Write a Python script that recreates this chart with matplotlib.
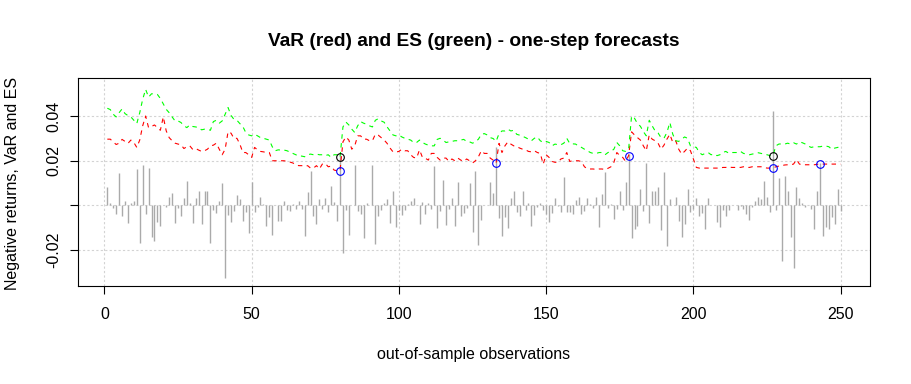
import numpy as np
import matplotlib
matplotlib.use("Agg")
import matplotlib.pyplot as plt

plt.rcParams['font.family'] = ['Liberation Sans', 'DejaVu Sans']

# out-of-sample negative returns
ret = np.array([
    0.0082, 0.0010, -0.0012, -0.0037, 0.0145, -0.0049, 0.0022, -0.0079, 0.0010, 0.0022,
    0.0164, -0.0168, 0.0183, -0.0037, 0.0168, -0.0142, -0.0159, -0.0075, -0.0092, 0.0003,
    -0.0007, 0.0037, 0.0058, -0.0079, -0.0012, -0.0048, 0.0033, 0.0112, 0.0013, -0.0079,
    0.0033, 0.0063, -0.0082, 0.0067, 0.0067, -0.0168, -0.0022, -0.0034, 0.0019, 0.0100,
    -0.0328, -0.0045, -0.0075, -0.0025, 0.0045, 0.0027, -0.0070, -0.0030, -0.0124, 0.0104,
    -0.0030, -0.0007, 0.0037, 0.0007, -0.0092, -0.0052, -0.0134, 0.0004, -0.0072, -0.0072,
    0.0022, -0.0022, -0.0025, 0.0007, -0.0015, 0.0018, -0.0015, -0.0137, 0.0060, 0.0156,
    -0.0048, -0.0082, 0.0027, -0.0018, 0.0033, -0.0030, 0.0089, 0.0015, -0.0070, 0.0228,
    -0.0212, -0.0019, -0.0134, 0.0004, 0.0182, -0.0027, -0.0037, -0.0145, 0.0013, 0.0004,
    0.0182, -0.0171, -0.0048, -0.0019, 0.0010, 0.0027, -0.0079, 0.0063, -0.0097, -0.0022,
    -0.0045, -0.0022, 0.0007, 0.0022, 0.0034, 0.0004, -0.0085, 0.0015, -0.0037, 0.0012,
    -0.0015, 0.0179, -0.0100, -0.0025, 0.0116, -0.0086, -0.0015, 0.0034, -0.0092, 0.0104,
    -0.0049, -0.0033, -0.0012, 0.0100, -0.0119, 0.0156, -0.0179, -0.0067, 0.0004, 0.0003,
    0.0104, 0.0057, 0.0264, -0.0055, -0.0137, -0.0052, -0.0100, 0.0033, 0.0064, -0.0030,
    -0.0048, 0.0064, -0.0022, 0.0010, -0.0092, -0.0042, -0.0007, 0.0010, -0.0019, -0.0040,
    -0.0075, -0.0033, 0.0033, -0.0004, -0.0030, 0.0127, -0.0030, -0.0030, -0.0037, 0.0025,
    0.0040, -0.0037, -0.0025, 0.0033, 0.0007, -0.0012, 0.0037, -0.0097, 0.0052, 0.0149,
    -0.0012, 0.0007, -0.0060, -0.0015, 0.0067, -0.0022, 0.0104, 0.0231, -0.0145, -0.0104,
    -0.0092, 0.0072, -0.0027, 0.0191, -0.0079, 0.0067, 0.0067, 0.0082, -0.0109, 0.0149,
    -0.0183, 0.0027, 0.0004, 0.0037, -0.0070, -0.0142, -0.0082, 0.0072, -0.0030, -0.0015,
    0.0033, -0.0048, -0.0034, -0.0104, 0.0033, 0.0004, 0.0004, -0.0075, -0.0097, -0.0022,
    -0.0048, -0.0019, 0.0004, 0.0004, -0.0019, -0.0004, -0.0015, -0.0037, -0.0064, -0.0007,
    0.0019, 0.0037, 0.0027, 0.0112, 0.0037, -0.0030, 0.0425, -0.0022, 0.0122, -0.0250,
    0.0134, 0.0064, -0.0142, -0.0279, 0.0082, 0.0033, 0.0010, -0.0007, 0.0004, -0.0015,
    -0.0104, 0.0067, 0.0189, -0.0137, -0.0097, -0.0104, -0.0052, -0.0082, 0.0072, -0.0025,
])

# one-step VaR forecasts
VaR = np.array([
    0.0298, 0.0298, 0.0286, 0.0274, 0.0280, 0.0297, 0.0288, 0.0279, 0.0294, 0.0283,
    0.0261, 0.0294, 0.0358, 0.0402, 0.0350, 0.0355, 0.0362, 0.0350, 0.0338, 0.0398,
    0.0335, 0.0305, 0.0291, 0.0280, 0.0276, 0.0273, 0.0256, 0.0264, 0.0268, 0.0252,
    0.0256, 0.0249, 0.0243, 0.0246, 0.0253, 0.0268, 0.0271, 0.0280, 0.0253, 0.0228,
    0.0253, 0.0332, 0.0325, 0.0301, 0.0302, 0.0276, 0.0238, 0.0238, 0.0228, 0.0216,
    0.0261, 0.0250, 0.0243, 0.0241, 0.0238, 0.0238, 0.0201, 0.0201, 0.0201, 0.0201,
    0.0201, 0.0198, 0.0195, 0.0191, 0.0183, 0.0179, 0.0179, 0.0176, 0.0179, 0.0168,
    0.0168, 0.0179, 0.0164, 0.0186, 0.0189, 0.0174, 0.0177, 0.0159, 0.0156, 0.0156,
    0.0286, 0.0308, 0.0294, 0.0253, 0.0268, 0.0313, 0.0313, 0.0298, 0.0298, 0.0291,
    0.0291, 0.0320, 0.0316, 0.0305, 0.0294, 0.0279, 0.0258, 0.0241, 0.0240, 0.0243,
    0.0253, 0.0246, 0.0246, 0.0228, 0.0216, 0.0213, 0.0250, 0.0216, 0.0212, 0.0204,
    0.0234, 0.0234, 0.0216, 0.0204, 0.0213, 0.0213, 0.0198, 0.0209, 0.0201, 0.0213,
    0.0204, 0.0198, 0.0209, 0.0201, 0.0191, 0.0201, 0.0219, 0.0246, 0.0234, 0.0234,
    0.0213, 0.0204, 0.0191, 0.0279, 0.0238, 0.0268, 0.0286, 0.0276, 0.0268, 0.0265,
    0.0258, 0.0253, 0.0250, 0.0243, 0.0241, 0.0246, 0.0238, 0.0234, 0.0186, 0.0228,
    0.0216, 0.0198, 0.0194, 0.0194, 0.0209, 0.0213, 0.0238, 0.0198, 0.0201, 0.0201,
    0.0201, 0.0197, 0.0174, 0.0165, 0.0164, 0.0164, 0.0161, 0.0164, 0.0164, 0.0161,
    0.0167, 0.0174, 0.0194, 0.0238, 0.0224, 0.0216, 0.0198, 0.0224, 0.0331, 0.0317,
    0.0305, 0.0294, 0.0268, 0.0246, 0.0317, 0.0298, 0.0291, 0.0280, 0.0253, 0.0271,
    0.0298, 0.0320, 0.0283, 0.0291, 0.0253, 0.0231, 0.0243, 0.0258, 0.0246, 0.0209,
    0.0171, 0.0168, 0.0168, 0.0168, 0.0168, 0.0168, 0.0168, 0.0168, 0.0168, 0.0171,
    0.0171, 0.0174, 0.0171, 0.0171, 0.0171, 0.0171, 0.0174, 0.0171, 0.0171, 0.0174,
    0.0174, 0.0174, 0.0174, 0.0171, 0.0168, 0.0168, 0.0168, 0.0174, 0.0177, 0.0179,
    0.0182, 0.0183, 0.0183, 0.0186, 0.0206, 0.0186, 0.0183, 0.0183, 0.0183, 0.0183,
    0.0183, 0.0185, 0.0186, 0.0186, 0.0186, 0.0186, 0.0186, 0.0186, 0.0186, 0.0186,
])

# one-step ES forecasts
ES = np.array([
    0.0437, 0.0431, 0.0410, 0.0398, 0.0417, 0.0434, 0.0413, 0.0404, 0.0398, 0.0383,
    0.0368, 0.0417, 0.0477, 0.0522, 0.0487, 0.0502, 0.0502, 0.0499, 0.0481, 0.0457,
    0.0432, 0.0417, 0.0398, 0.0380, 0.0380, 0.0373, 0.0358, 0.0350, 0.0362, 0.0355,
    0.0353, 0.0350, 0.0340, 0.0343, 0.0343, 0.0338, 0.0377, 0.0383, 0.0370, 0.0380,
    0.0410, 0.0440, 0.0405, 0.0387, 0.0383, 0.0368, 0.0355, 0.0328, 0.0317, 0.0313,
    0.0320, 0.0313, 0.0305, 0.0302, 0.0298, 0.0294, 0.0264, 0.0246, 0.0250, 0.0249,
    0.0249, 0.0246, 0.0240, 0.0234, 0.0228, 0.0222, 0.0222, 0.0219, 0.0228, 0.0231,
    0.0228, 0.0231, 0.0228, 0.0228, 0.0224, 0.0228, 0.0216, 0.0228, 0.0228, 0.0216,
    0.0353, 0.0375, 0.0362, 0.0343, 0.0328, 0.0358, 0.0377, 0.0370, 0.0365, 0.0358,
    0.0353, 0.0383, 0.0390, 0.0380, 0.0374, 0.0353, 0.0335, 0.0317, 0.0313, 0.0317,
    0.0308, 0.0302, 0.0298, 0.0294, 0.0283, 0.0283, 0.0294, 0.0283, 0.0276, 0.0271,
    0.0268, 0.0268, 0.0297, 0.0302, 0.0294, 0.0283, 0.0286, 0.0288, 0.0291, 0.0291,
    0.0294, 0.0297, 0.0288, 0.0286, 0.0280, 0.0286, 0.0298, 0.0320, 0.0323, 0.0317,
    0.0305, 0.0301, 0.0288, 0.0323, 0.0335, 0.0335, 0.0343, 0.0335, 0.0338, 0.0320,
    0.0316, 0.0311, 0.0305, 0.0298, 0.0291, 0.0302, 0.0308, 0.0291, 0.0283, 0.0288,
    0.0283, 0.0268, 0.0276, 0.0273, 0.0273, 0.0280, 0.0302, 0.0279, 0.0277, 0.0276,
    0.0267, 0.0261, 0.0253, 0.0246, 0.0238, 0.0234, 0.0234, 0.0238, 0.0238, 0.0228,
    0.0238, 0.0243, 0.0253, 0.0283, 0.0268, 0.0246, 0.0243, 0.0253, 0.0402, 0.0392,
    0.0368, 0.0356, 0.0332, 0.0313, 0.0383, 0.0358, 0.0335, 0.0326, 0.0305, 0.0302,
    0.0328, 0.0373, 0.0320, 0.0291, 0.0288, 0.0298, 0.0308, 0.0302, 0.0268, 0.0264,
    0.0261, 0.0238, 0.0228, 0.0234, 0.0238, 0.0228, 0.0231, 0.0224, 0.0228, 0.0238,
    0.0243, 0.0235, 0.0238, 0.0238, 0.0238, 0.0243, 0.0234, 0.0231, 0.0228, 0.0231,
    0.0234, 0.0237, 0.0234, 0.0231, 0.0228, 0.0224, 0.0224, 0.0268, 0.0276, 0.0277,
    0.0276, 0.0280, 0.0276, 0.0282, 0.0276, 0.0286, 0.0282, 0.0276, 0.0267, 0.0261,
    0.0264, 0.0264, 0.0264, 0.0267, 0.0267, 0.0264, 0.0252, 0.0258, 0.0261, 0.0264,
])

obs = np.arange(1, len(ret) + 1)
x_ticks = [0, 50, 100, 150, 200, 250]
y_ticks = [-0.02, 0.0, 0.02, 0.04]
y_tick_labels = ["-0.02", "", "0.02", "0.04"]

fig = plt.figure(figsize=(9.12, 3.84), dpi=100)
ax = fig.add_axes([78 / 912, 98 / 384, 792 / 912, 208 / 384])

# returns as vertical spikes, then VaR / ES forecasts
ax.vlines(obs, 0, ret, color="#AAAAAA", lw=1.0, zorder=2)
ax.plot(obs, VaR, color="red", lw=0.8, dashes=(4, 4), zorder=3)
ax.plot(obs, ES, color="#00FF00", lw=0.8, dashes=(4, 4), zorder=3)

# exceedances: blue at VaR, black at ES
hit_var = ret > VaR
hit_es = ret > ES
ax.plot(obs[hit_var], VaR[hit_var], "o", mfc="none", mec="blue", ms=5.5, mew=0.8, zorder=4)
ax.plot(obs[hit_es], ES[hit_es], "o", mfc="none", mec="black", ms=5.5, mew=0.8, zorder=4)

ax.set_xlim(-8.96, 259.96)
ax.set_ylim(-0.0362, 0.0573)
ax.set_xticks(x_ticks)
ax.set_yticks(y_ticks)
ax.set_yticklabels(y_tick_labels, rotation=90, va="center")
ax.grid(True, color="lightgray", lw=0.8, dashes=(2, 2), zorder=1)
ax.tick_params(direction="out", length=6, width=0.8, labelsize=11.5)
ax.tick_params(axis="x", pad=9)
ax.tick_params(axis="y", pad=6)
for s in ax.spines.values():
    s.set_linewidth(0.8)

fig.text(474 / 912, 1 - 42 / 384, "VaR (red) and ES (green) - one-step forecasts",
         ha="center", va="center", fontsize=13.8, fontweight="bold")
fig.text(474 / 912, 1 - 354 / 384, "out-of-sample observations",
         ha="center", va="center", fontsize=11.5)
fig.text(13 / 912, 1 - 183 / 384, "Negative returns, VaR and ES",
         ha="center", va="center", rotation=90, fontsize=11.5)

fig.savefig("out.png", dpi=100)
